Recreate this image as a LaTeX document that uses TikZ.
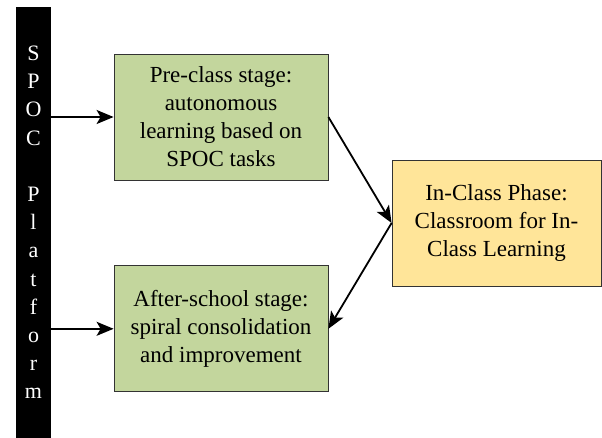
\documentclass[tikz,border=0pt]{standalone}
\usepackage{fontspec}
\setmainfont{Liberation Serif}
\newfontfamily\platfont{Liberation Serif}
\definecolor{colstage}{RGB}{195,214,157}
\definecolor{colclass}{RGB}{255,229,153}
\usetikzlibrary{
	arrows.meta,
	positioning
}
\tikzset{
	>={Stealth[length=17pt, width=14pt, inset=4pt]},
	flow/.style={->, line width=1.8pt},
	stagebox/.style={rectangle, draw=black!80, line width=0.8pt, fill=colstage,
		minimum width=214pt, minimum height=126pt, inner sep=0pt,
		align=center, font=\rmfamily\fontsize{23}{28}\selectfont},
	classbox/.style={stagebox, fill=colclass, minimum width=209pt},
	platform/.style={rectangle, fill=black, text=white, minimum width=35pt,
		minimum height=431pt, inner sep=0pt, align=center,
		font=\platfont\fontsize{22}{28.2}\selectfont}
}

\begin{document}
\begin{tikzpicture}[x=1pt, y=-1pt]
	\useasboundingbox (0,0) rectangle (602,438);

	\node[platform] (spoc) at (33.5,222.5)
		{S\\P\\O\\C\\{}\\P\\l\\a\\t\\f\\o\\r\\m};

	\node[stagebox] (pre) at (221,117)
		{Pre-class stage:\\autonomous\\learning based on\\SPOC tasks};
	\node[stagebox] (after) [below=85pt of pre]
		{After-school stage:\\spiral consolidation\\and improvement};
	\node[classbox] (inclass) at (496.5,223)
		{In-Class Phase:\\Classroom for In-\\Class Learning};

	\draw[flow] (spoc.east |- pre.west) -- (pre.west);
	\draw[flow] (spoc.east |- after.west) -- (after.west);
	\draw[flow] (pre.east) -- (inclass.west);
	\draw[flow] (inclass.west) -- (after.east);
\end{tikzpicture}
\end{document}
